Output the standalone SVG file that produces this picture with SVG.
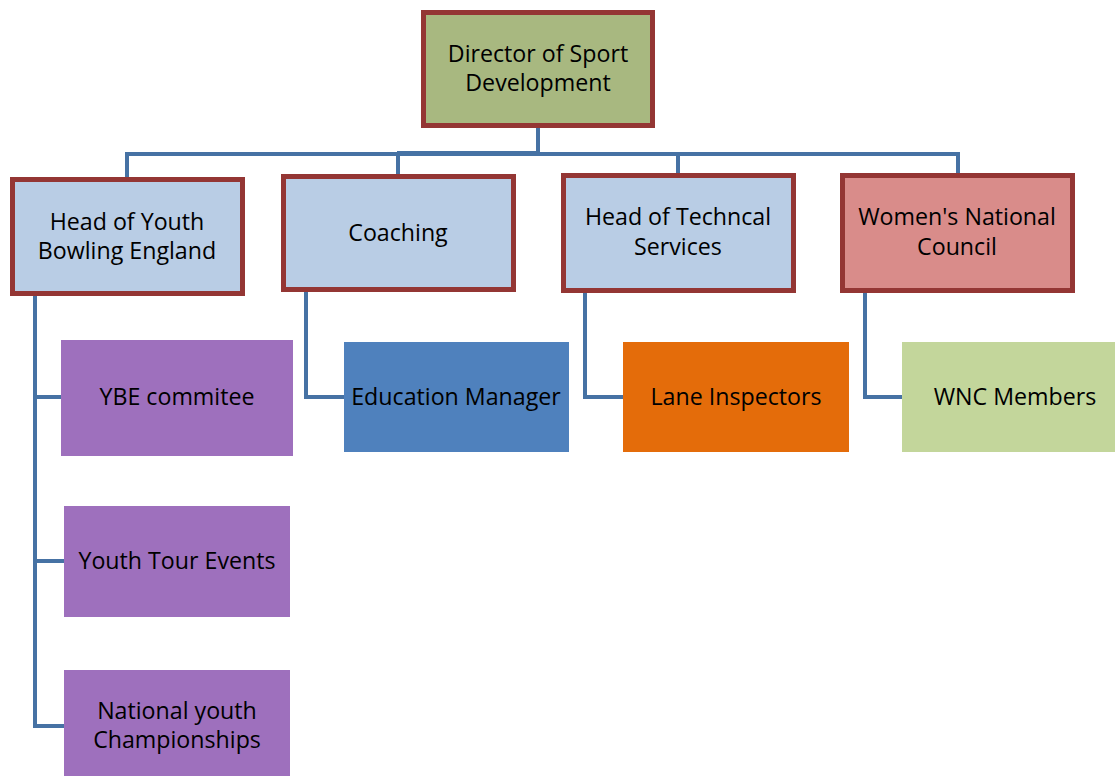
<svg xmlns="http://www.w3.org/2000/svg" width="1115" height="776" viewBox="0 0 1115 776">
<style>
text{font-family:"Open Sans",Lato,"Liberation Sans",sans-serif;font-size:23.2px;fill:#000;text-anchor:middle}
.top{stroke:#943634;stroke-width:5}
.blue{fill:#B9CDE5}
.conn{fill:none;stroke:#4672A4;stroke-width:4;stroke-linejoin:miter}
</style>
<rect width="1115" height="776" fill="#fff"/>
<g id="connectors">
<path class="conn" d="M538 128V153M127 177V154H958V173M398 154V174M678 154V173"/>
<path class="conn" d="M397 153H538" stroke-width="6"/>
<path class="conn" d="M35 296V726H64M35 397H61M35 561H64"/>
<path class="conn" d="M306 292V397H344"/>
<path class="conn" d="M585 293V397H623"/>
<path class="conn" d="M865 293V397H902"/>
</g>
<g id="director">
<rect class="top" x="423.5" y="12.5" width="229" height="113" fill="#A8B880"/>
<text x="538" y="62">Director of Sport</text>
<text x="538" y="91">Development</text>
</g>
<g id="youth">
<rect class="top blue" x="12.5" y="179.5" width="230" height="114"/>
<text x="127" y="230">Head of Youth</text>
<text x="127" y="259">Bowling England</text>
</g>
<g id="coaching">
<rect class="top blue" x="283.5" y="176.5" width="230" height="113"/>
<text x="398" y="241">Coaching</text>
</g>
<g id="technical">
<rect class="top blue" x="563.5" y="175.5" width="230" height="115"/>
<text x="678" y="225">Head of Techncal</text>
<text x="678" y="255">Services</text>
</g>
<g id="wnc">
<rect class="top" x="842.5" y="175.5" width="230" height="115" fill="#D98C8A"/>
<text x="957" y="225">Women's National</text>
<text x="957" y="255">Council</text>
</g>
<g id="ybe">
<rect x="61" y="340" width="232" height="116" fill="#9E70BD"/>
<text x="177" y="405">YBE commitee</text>
</g>
<g id="tour">
<rect x="64" y="506" width="226" height="111" fill="#9E70BD"/>
<text x="177" y="569">Youth Tour Events</text>
</g>
<g id="national">
<rect x="64" y="670" width="226" height="110" fill="#9E70BD"/>
<text x="177" y="719">National youth</text>
<text x="177" y="748">Championships</text>
</g>
<g id="education">
<rect x="344" y="342" width="225" height="110" fill="#4F81BD"/>
<text x="456" y="405">Education Manager</text>
</g>
<g id="lane">
<rect x="623" y="342" width="226" height="110" fill="#E46C0A"/>
<text x="736" y="405">Lane Inspectors</text>
</g>
<g id="wncm">
<rect x="902" y="342" width="220" height="110" fill="#C3D69B"/>
<text x="1015" y="405">WNC Members</text>
</g>
</svg>
